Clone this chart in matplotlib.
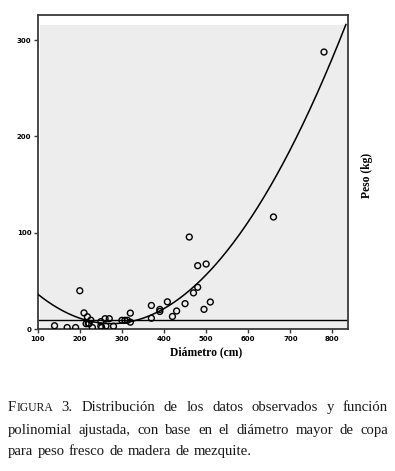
import matplotlib
matplotlib.use("Agg")
import matplotlib.pyplot as plt
from matplotlib.patches import Rectangle
import numpy as np

# ---- data ----
diametro = [140, 170, 190, 200, 210, 215, 218, 220, 222, 226, 230, 250, 250, 252,
            260, 262, 270, 280, 300, 307, 313, 320, 320, 370, 370, 390, 390, 408,
            420, 430, 450, 460, 470, 480, 480, 495, 500, 510, 660, 780]
peso = [3.7, 1.8, 1.8, 40, 17, 5.8, 13, 6, 5.8, 9.5, 1.8, 7.9, 3.4, 2,
        11, 3.4, 11, 3.2, 9.3, 9.3, 9.3, 16.8, 7.4, 24.7, 11.5, 20.6, 18.5, 28.5,
        13.3, 19, 26.6, 95.7, 37.8, 66, 43.6, 20.7, 67.7, 28.3, 116.5, 287.6]
# fitted polynomial (quadratic) coefficients, highest power first
poly_coef = [0.001, -0.55, 81.5]
linea_ref = 9.6
x_ticks = [100, 200, 300, 400, 500, 600, 700, 800]
y_ticks = [0, 100, 200, 300]
caption_lines = [
    ["FIGURA", "3.", "Distribución", "de", "los", "datos", "observados", "y", "función"],
    ["polinomial", "ajustada,", "con", "base", "en", "el", "diámetro", "mayor", "de", "copa"],
    ["para", "peso", "fresco", "de", "madera", "de", "mezquite."],
]

W, H = 395, 471
fig = plt.figure(figsize=(W / 100, H / 100), dpi=100)
fig.patch.set_facecolor("white")

ax_l, ax_r, ax_t, ax_b = 37.7, 348, 15, 329.3
ax = fig.add_axes([ax_l / W, 1 - ax_b / H, (ax_r - ax_l) / W, (ax_b - ax_t) / H])
ax.set_xlim(100, 837)
ax.set_ylim(0, 326)
ax.set_facecolor("white")

ax.add_patch(Rectangle((105, 0), 729, 316, facecolor="#ededed", edgecolor="none", zorder=0))

ax.axhline(linea_ref, color="black", lw=1.0, zorder=2)
xc = np.linspace(100, 832, 300)
ax.plot(xc, np.polyval(poly_coef, xc), color="black", lw=1.1, zorder=3)
ax.scatter(diametro, peso, s=18, facecolors="none", edgecolors="black", linewidths=1.0, zorder=4)

for s in ax.spines.values():
    s.set_color("#3a3a3a")
    s.set_linewidth(1.3)

ax.set_xticks(x_ticks)
ax.set_yticks(y_ticks)
ax.tick_params(axis="both", direction="out", length=3, width=1.0, color="#3a3a3a",
               labelsize=5, pad=1.5)
for lab in ax.get_xticklabels() + ax.get_yticklabels():
    lab.set_fontweight("bold")
    lab.set_family("DejaVu Sans")

fig.text(206 / W, 1 - 352 / H, "Diámetro (cm)", ha="center", va="center",
         family="Liberation Serif", fontsize=8.4, fontweight="bold")
fig.text(367 / W, 1 - 175 / H, "Peso (kg)", ha="center", va="center", rotation=90,
         family="Liberation Serif", fontsize=8.4, fontweight="bold")

# ---- caption with justification ----
fig.canvas.draw()
renderer = fig.canvas.get_renderer()
fs_main, fs_small = 10.6, 8.4
x0, x1 = 8, 388
line_y = [407, 430, 451]

def make_word(word):
    if word == "FIGURA":
        parts = [("F", fs_main), ("IGURA", fs_small)]
    else:
        parts = [(word, fs_main)]
    objs = []
    for txt, fs in parts:
        t = fig.text(0, 0, txt, family="Liberation Serif", fontsize=fs,
                     ha="left", va="baseline", color="#1a1a1a")
        objs.append(t)
    return objs

for li, words in enumerate(caption_lines):
    yb = 1 - (line_y[li] + 4) / H
    wobjs = [make_word(w) for w in words]
    widths = []
    for objs in wobjs:
        widths.append(sum(t.get_window_extent(renderer).width for t in objs))
    total = sum(widths)
    if li < len(caption_lines) - 1:
        gap = (x1 - x0 - total) / (len(words) - 1)
    else:
        gap = 4.3
    x = x0
    for objs, wd in zip(wobjs, widths):
        xx = x
        for t in objs:
            t.set_position((xx / W, yb))
            xx += t.get_window_extent(renderer).width
        x += wd + gap

fig.savefig("out.png", dpi=100, facecolor="white")
